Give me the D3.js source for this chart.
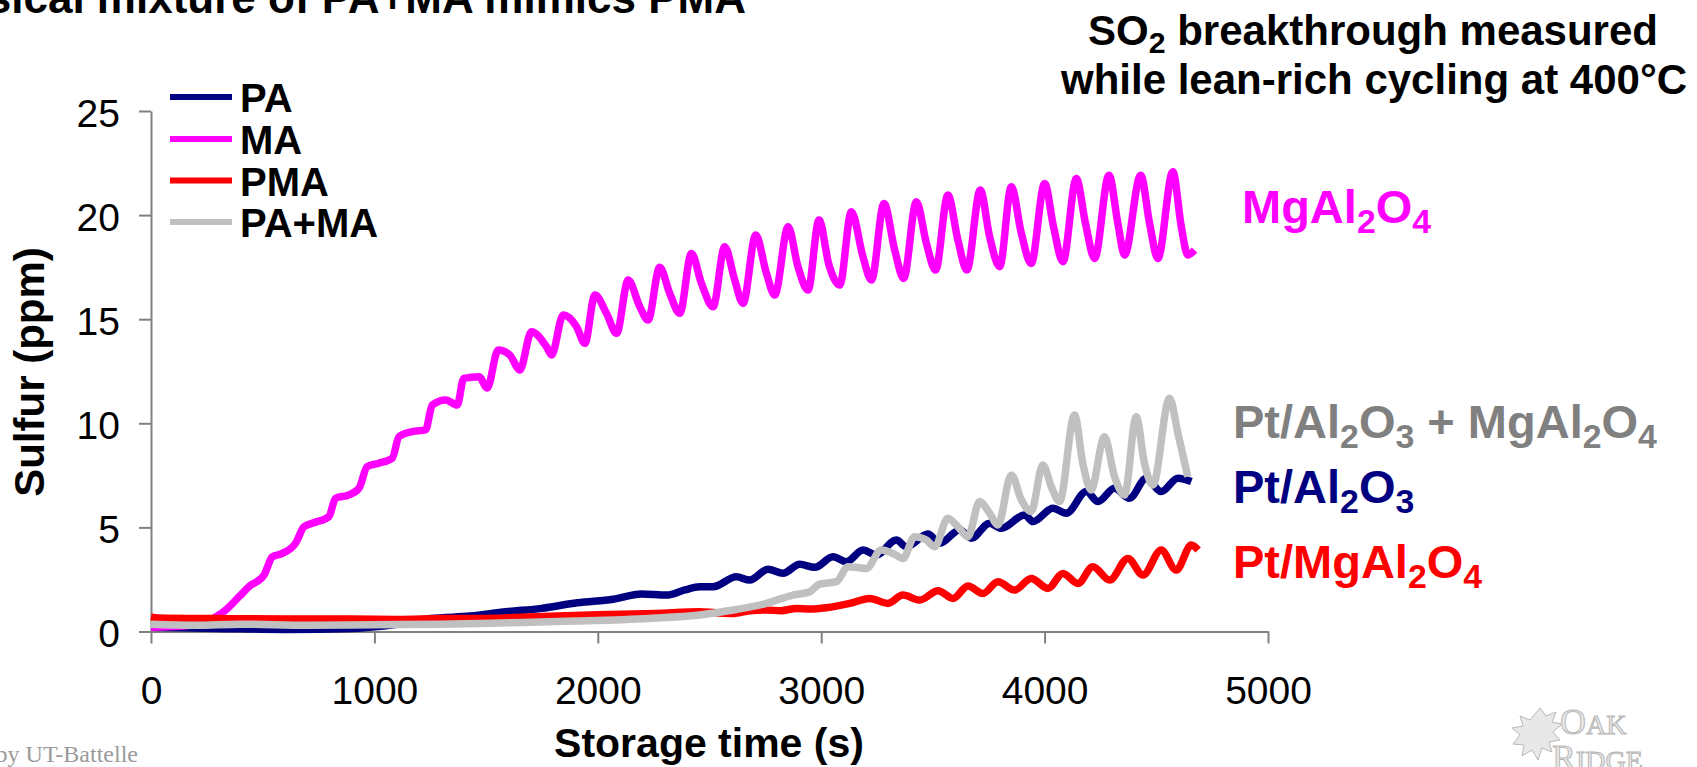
<!DOCTYPE html>
<html>
<head>
<meta charset="utf-8">
<script src="https://cdn.jsdelivr.net/npm/d3@7"></script>
<style>
  html, body { margin: 0; padding: 0; background: #fff; }
  svg { display: block; font-family: "Liberation Sans", Arial, sans-serif; }
</style>
</head>
<body>
<svg id="chart" width="1697" height="767"></svg>
<script>
// ---------------- data (time s, sulfur ppm) ----------------
const seriesNames = ["PA", "MA", "PMA", "PA+MA"];
const seriesColors = ["#000080", "#FF00FF", "#FF0000", "#C0C0C0"];

const paData = [[0,0.2],[300,0.15],[600,0.1],[900,0.15],[1100,0.35],[1253,0.62],[1429,0.74],[1589,0.95],[1749,1.11],[1909,1.38],[2069,1.55],[2196,1.8],[2308,1.75],[2390,2.0],[2456,2.15],[2516,2.15],[2620,2.63],[2680,2.47],[2762,2.99],[2829,2.8],[2904,3.23],[2971,3.08],[3053,3.59],[3113,3.35],[3187,3.91],[3247,3.67],[3336,4.39],[3381,4.07],[3478,4.68],[3530,4.24],[3620,4.88],[3672,4.48],[3754,5.2],[3806,4.96],[3911,5.6],[3948,5.28],[4037,5.92],[4097,5.68],[4187,6.72],[4239,6.24],[4313,6.88],[4380,6.4],[4455,7.36],[4522,6.72],[4597,7.36],[4657,7.2]];

const maData = [[0,0.2],[120,0.25],[250,0.45],[290,0.7],[334,1.03],[394,1.67],[438,2.15],[506,2.71],[543,3.59],[588,3.75],[647,4.24],[685,5.03],[722,5.2],[796,5.51],[826,6.4],[886,6.56],[931,6.88],[968,7.92],[1020,8.08],[1080,8.32],[1110,9.36],[1169,9.6],[1229,9.68],[1259,10.88],[1319,11.12],[1371,10.88],[1400,12.16],[1468,12.24],[1505,11.7],[1554,13.52],[1606,13.28],[1651,12.56],[1703,14.4],[1770,13.68],[1793,13.28],[1845,15.2],[1905,14.64],[1942,13.84],[1987,16.16],[2039,15.28],[2084,14.32],[2136,16.88],[2188,15.6],[2225,14.96],[2277,17.49],[2322,16.24],[2367,15.28],[2419,18.16],[2464,16.72],[2516,15.6],[2568,18.48],[2613,16.88],[2650,15.76],[2707,19.04],[2755,17.2],[2792,16.16],[2852,19.44],[2896,17.52],[2941,16.4],[2990,19.76],[3035,17.6],[3083,16.64],[3135,20.16],[3187,18.0],[3225,16.88],[3281,20.56],[3329,18.32],[3369,16.96],[3426,20.64],[3471,18.64],[3512,17.36],[3567,20.96],[3612,18.8],[3652,17.36],[3712,21.2],[3754,18.96],[3799,17.52],[3851,21.36],[3896,19.12],[3940,17.68],[4000,21.52],[4040,19.44],[4082,17.76],[4142,21.76],[4183,19.6],[4224,17.92],[4288,21.92],[4328,19.6],[4358,18.08],[4430,21.92],[4470,19.6],[4507,17.92],[4574,22.08],[4612,19.44],[4641,18.08],[4671,18.32]];

const pmaData = [[0,0.7],[30,0.65],[300,0.62],[600,0.6],[900,0.6],[1100,0.58],[1300,0.62],[1500,0.63],[1750,0.72],[2000,0.8],[2260,0.87],[2456,0.95],[2530,0.9],[2605,0.87],[2680,1.0],[2755,1.03],[2820,1.0],[2889,1.11],[2950,1.08],[3023,1.14],[3128,1.35],[3217,1.59],[3299,1.35],[3366,1.75],[3441,1.51],[3523,1.96],[3590,1.59],[3657,2.19],[3724,1.83],[3791,2.39],[3866,1.99],[3940,2.55],[4015,2.07],[4082,2.79],[4149,2.31],[4216,3.11],[4291,2.47],[4373,3.51],[4440,2.71],[4522,3.91],[4589,2.95],[4657,4.15],[4687,3.91]];

const pamaData = [[0,0.35],[200,0.3],[400,0.35],[700,0.3],[1000,0.33],[1300,0.35],[1600,0.42],[1900,0.5],[2230,0.63],[2456,0.79],[2605,1.03],[2755,1.35],[2874,1.75],[2949,1.91],[2993,2.28],[3068,2.39],[3120,3.11],[3202,3.03],[3269,3.91],[3336,3.67],[3366,3.51],[3418,4.55],[3471,4.39],[3508,4.07],[3567,5.44],[3612,5.03],[3657,4.55],[3709,6.24],[3754,5.68],[3791,5.12],[3851,7.52],[3896,6.32],[3940,5.76],[3992,8.0],[4030,6.96],[4067,6.24],[4134,10.4],[4171,8.08],[4208,6.8],[4268,9.36],[4313,7.44],[4358,6.56],[4410,10.32],[4447,8.08],[4485,7.04],[4559,11.2],[4597,9.52],[4641,7.44]];

const xTicks = [0, 1000, 2000, 3000, 4000, 5000];
const yTicks = [0, 5, 10, 15, 20, 25];

// ---------------- drawing ----------------
const svg = d3.select("#chart");
const x = d3.scaleLinear().domain([0, 5000]).range([151, 1268]);
const y = d3.scaleLinear().domain([0, 25]).range([631.5, 111]);
const axisColor = "#808080";

// x axis
const gx = svg.append("g").attr("transform", `translate(0,${y(0)})`)
  .call(d3.axisBottom(x).tickValues(xTicks).tickSize(12).tickSizeOuter(0).tickFormat(d3.format("d")));
// y axis
const gy = svg.append("g").attr("transform", `translate(${x(0)},0)`)
  .call(d3.axisLeft(y).tickValues(yTicks).tickSize(12).tickSizeOuter(0).tickFormat(d3.format("d")));
[gx, gy].forEach(g => {
  g.select(".domain").attr("stroke", axisColor).attr("stroke-width", 2);
  g.selectAll(".tick line").attr("stroke", axisColor).attr("stroke-width", 2);
  g.selectAll(".tick text").attr("fill", "#000").attr("font-size", 39)
    .attr("font-family", "'Liberation Sans', Arial, sans-serif");
});
gx.selectAll(".tick text").attr("y", 72.5).attr("dy", 0);
gy.selectAll(".tick text").attr("x", -31).attr("dy", 15);

// series lines
const line = d3.line().x(d => x(d[0])).y(d => y(d[1])).curve(d3.curveMonotoneX);
const allData = [paData, maData, pmaData, pamaData];
allData.forEach((data, i) => {
  svg.append("path").datum(data)
    .attr("d", line)
    .attr("fill", "none")
    .attr("stroke", seriesColors[i])
    .attr("stroke-width", 7.5)
    .attr("stroke-linejoin", "round")
    .attr("stroke-linecap", "butt");
});

// legend
const legendY = [97, 139, 180.5, 222];
seriesNames.forEach((name, i) => {
  svg.append("line").attr("x1", 170).attr("x2", 232)
    .attr("y1", legendY[i]).attr("y2", legendY[i])
    .attr("stroke", seriesColors[i]).attr("stroke-width", 6);
  svg.append("text").attr("x", 240).attr("y", legendY[i] + 15)
    .attr("font-size", 40).attr("font-weight", "bold").attr("fill", "#000").text(name);
});

// axis titles
svg.append("text").attr("x", 709).attr("y", 757).attr("text-anchor", "middle")
  .attr("font-size", 41).attr("font-weight", "bold").text("Storage time (s)");
svg.append("text").attr("transform", "translate(44,372) rotate(-90)").attr("text-anchor", "middle")
  .attr("font-size", 42).attr("font-weight", "bold").text("Sulfur (ppm)");

// clipped slide title at top
svg.append("text").attr("x", 746).attr("y", 13).attr("text-anchor", "end")
  .attr("font-size", 44).attr("font-weight", "bold").text("Physical mixture of PA+MA mimics PMA");

// helper for chemical text with subscripts
function chem(parts, xPos, yPos, size, color, anchor, subShift) {
  const t = svg.append("text").attr("x", xPos).attr("y", yPos)
    .attr("font-size", size).attr("font-weight", "bold").attr("fill", color)
    .attr("text-anchor", anchor || "start");
  let shifted = false;
  parts.forEach(p => {
    const isSub = p.startsWith("_");
    const txt = isSub ? p.slice(1) : p;
    const ts = t.append("tspan").text(txt);
    if (isSub) {
      ts.attr("font-size", size * 0.72).attr("dy", shifted ? 0 : subShift);
      shifted = true;
    } else if (shifted) {
      ts.attr("dy", -subShift);
      shifted = false;
    }
  });
  return t;
}

// right-hand title
chem(["SO", "_2", " breakthrough measured"], 1373, 45, 42, "#000", "middle", 8);
svg.append("text").attr("x", 1374).attr("y", 94).attr("text-anchor", "middle")
  .attr("font-size", 42).attr("font-weight", "bold").text("while lean-rich cycling at 400°C");

// curve annotations
chem(["MgAl", "_2", "O", "_4"], 1242, 223, 47, "#FF00FF", "start", 10);
chem(["Pt/Al", "_2", "O", "_3", " + MgAl", "_2", "O", "_4"], 1233, 438, 47, "#808080", "start", 10);
chem(["Pt/Al", "_2", "O", "_3"], 1233, 503, 47, "#000080", "start", 10);
chem(["Pt/MgAl", "_2", "O", "_4"], 1233, 578, 47, "#FF0000", "start", 10);

// footer text
svg.append("text").attr("x", 138).attr("y", 762).attr("text-anchor", "end")
  .attr("font-family", "'Liberation Serif', 'Times New Roman', serif")
  .attr("font-size", 24).attr("fill", "#9a9a9a").text("Managed by UT-Battelle");

// Oak Ridge logo (light embossed)
const logo = svg.append("g").attr("fill", "#e8e8e8").attr("stroke", "#b8b8b8").attr("stroke-width", 1)
  .attr("font-family", "'Liberation Serif', 'Times New Roman', serif");
logo.append("path").attr("d",
  "M1540,708 L1546,716 L1556,712 L1552,722 L1562,724 L1553,732 L1560,740 L1549,742 L1552,752 L1542,748 L1538,760 L1532,750 L1522,756 L1524,745 L1513,744 L1520,735 L1512,728 L1523,726 L1520,716 L1530,720 Z");
const oak = logo.append("text").attr("x", 1560).attr("y", 734);
oak.append("tspan").attr("font-size", 36).text("O");
oak.append("tspan").attr("font-size", 28).text("AK");
const ridge = logo.append("text").attr("x", 1552).attr("y", 770);
ridge.append("tspan").attr("font-size", 36).text("R");
ridge.append("tspan").attr("font-size", 28).text("IDGE");
</script>
</body>
</html>
